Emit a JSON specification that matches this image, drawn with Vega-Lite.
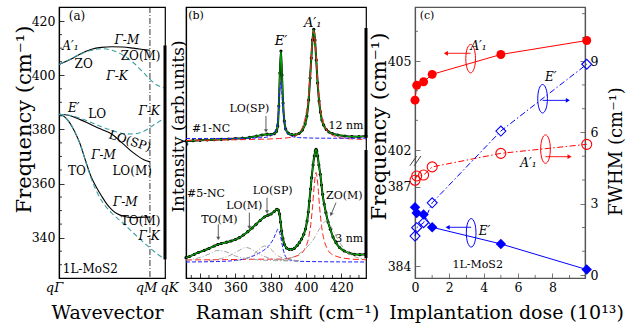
{
"$schema":"https://vega.github.io/schema/vega-lite/v6.json",
"background":"white",
"padding":{"left":12,"top":6,"right":0,"bottom":0},
"bounds":"flush",
"spacing":21,
"config":{
 "font":"DejaVu Serif",
 "view":{"stroke":"black","strokeWidth":1.2},
 "axis":{"grid":false,"labelFont":"DejaVu Serif","titleFont":"DejaVu Serif","titleFontWeight":"normal","labelFontSize":12.5,"titleFontSize":19,"domainColor":"black","tickColor":"black","labelColor":"black","titleColor":"black","labelFlush":false,"labelOverlap":false,"tickWidth":0.8,"domainWidth":1.2,"tickSize":-5}
},
"datasets":{
 "disp":[
  {"b":"ZO","k":"M","x":0,"y":404},{"b":"ZO","k":"M","x":0.1,"y":405.7},{"b":"ZO","k":"M","x":0.2,"y":407.8},{"b":"ZO","k":"M","x":0.3,"y":409.5},{"b":"ZO","k":"M","x":0.4,"y":410.3},{"b":"ZO","k":"M","x":0.5,"y":410.5},{"b":"ZO","k":"M","x":0.6,"y":410.4},{"b":"ZO","k":"M","x":0.7,"y":410},{"b":"ZO","k":"M","x":0.8,"y":409.5},{"b":"ZO","k":"M","x":0.858,"y":409.2},
  {"b":"LO","k":"M","x":0,"y":385.6},{"b":"LO","k":"M","x":0.1,"y":385.1},{"b":"LO","k":"M","x":0.2,"y":383.6},{"b":"LO","k":"M","x":0.3,"y":381.8},{"b":"LO","k":"M","x":0.4,"y":380},{"b":"LO","k":"M","x":0.5,"y":378.2},{"b":"LO","k":"M","x":0.6,"y":374.8},{"b":"LO","k":"M","x":0.7,"y":371.4},{"b":"LO","k":"M","x":0.8,"y":368.8},{"b":"LO","k":"M","x":0.858,"y":368},
  {"b":"TO","k":"M","x":0,"y":385.6},{"b":"TO","k":"M","x":0.05,"y":384.7},{"b":"TO","k":"M","x":0.1,"y":382.5},{"b":"TO","k":"M","x":0.15,"y":379},{"b":"TO","k":"M","x":0.2,"y":374.5},{"b":"TO","k":"M","x":0.25,"y":368.5},{"b":"TO","k":"M","x":0.3,"y":362.8},{"b":"TO","k":"M","x":0.35,"y":358.8},{"b":"TO","k":"M","x":0.4,"y":355.5},{"b":"TO","k":"M","x":0.45,"y":352.5},{"b":"TO","k":"M","x":0.5,"y":350.3},{"b":"TO","k":"M","x":0.55,"y":348.8},{"b":"TO","k":"M","x":0.6,"y":348},{"b":"TO","k":"M","x":0.7,"y":347.4},{"b":"TO","k":"M","x":0.8,"y":347.6},{"b":"TO","k":"M","x":0.858,"y":347.6},
  {"b":"ZO","k":"K","x":0,"y":404},{"b":"ZO","k":"K","x":0.1,"y":405.8},{"b":"ZO","k":"K","x":0.2,"y":407.7},{"b":"ZO","k":"K","x":0.3,"y":409.1},{"b":"ZO","k":"K","x":0.4,"y":409.8},{"b":"ZO","k":"K","x":0.5,"y":409.2},{"b":"ZO","k":"K","x":0.6,"y":407.5},{"b":"ZO","k":"K","x":0.7,"y":404.7},{"b":"ZO","k":"K","x":0.8,"y":400.8},{"b":"ZO","k":"K","x":0.9,"y":397},{"b":"ZO","k":"K","x":1,"y":395.2},
  {"b":"LO","k":"K","x":0,"y":385.6},{"b":"LO","k":"K","x":0.1,"y":385.2},{"b":"LO","k":"K","x":0.2,"y":384.1},{"b":"LO","k":"K","x":0.3,"y":382.6},{"b":"LO","k":"K","x":0.4,"y":381},{"b":"LO","k":"K","x":0.5,"y":379.6},{"b":"LO","k":"K","x":0.6,"y":378.5},{"b":"LO","k":"K","x":0.7,"y":378.3},{"b":"LO","k":"K","x":0.8,"y":379.3},{"b":"LO","k":"K","x":0.9,"y":381.8},{"b":"LO","k":"K","x":1,"y":384.3},
  {"b":"TO","k":"K","x":0,"y":385.6},{"b":"TO","k":"K","x":0.05,"y":384.7},{"b":"TO","k":"K","x":0.1,"y":382.5},{"b":"TO","k":"K","x":0.15,"y":379},{"b":"TO","k":"K","x":0.2,"y":374.5},{"b":"TO","k":"K","x":0.25,"y":368.3},{"b":"TO","k":"K","x":0.3,"y":362.3},{"b":"TO","k":"K","x":0.35,"y":357.5},{"b":"TO","k":"K","x":0.4,"y":353.8},{"b":"TO","k":"K","x":0.5,"y":349},{"b":"TO","k":"K","x":0.6,"y":345.5},{"b":"TO","k":"K","x":0.7,"y":341.8},{"b":"TO","k":"K","x":0.8,"y":338.2},{"b":"TO","k":"K","x":0.9,"y":334.8},{"b":"TO","k":"K","x":1,"y":332}
 ],
 "aMinor":[{"y":330},{"y":335},{"y":345},{"y":350},{"y":355},{"y":365},{"y":370},{"y":375},{"y":385},{"y":390},{"y":395},{"y":405},{"y":410},{"y":415},{"y":425}],
 "aTxt":[
  {"x":0.17,"y":421.8,"t":"(a)"},{"x":0.233,"y":404,"t":"ZO"},{"x":0.77,"y":407.1,"t":"ZO(M)"},{"x":0.36,"y":385.6,"t":"LO"},{"x":0.69,"y":364.6,"t":"LO(M)"},{"x":0.17,"y":364.6,"t":"TO"},{"x":0.77,"y":346.2,"t":"TO(M)"},{"x":0.295,"y":328.4,"t":"1L-MoS2"}
 ],
 "aMath":[
  {"x":0.107,"y":410.8,"t":"A′₁"},{"x":0.139,"y":388,"t":"E′"},{"x":0.64,"y":413.1,"t":"Γ-M"},{"x":0.547,"y":399.7,"t":"Γ-K"},{"x":0.85,"y":386.8,"t":"Γ-K"},{"x":0.42,"y":370.6,"t":"Γ-M"},{"x":0.625,"y":353,"t":"Γ-M"},{"x":0.85,"y":340.7,"t":"Γ-K"}
 ],
 "aRot":[{"x":0.67,"y":375.7,"t":"LO(SP)"}],
 "spec":[
  {"s":"1","x":332,"y":137},{"s":"1","x":336,"y":137.3},{"s":"1","x":340,"y":137.7},{"s":"1","x":344,"y":138},{"s":"1","x":348,"y":138.3},{"s":"1","x":352,"y":138.7},{"s":"1","x":356,"y":139},{"s":"1","x":360,"y":139.4},{"s":"1","x":364,"y":139.8},{"s":"1","x":368,"y":140.6},{"s":"1","x":372,"y":141.8},{"s":"1","x":375,"y":143},{"s":"1","x":378,"y":143.8},{"s":"1","x":380,"y":143.4},{"s":"1","x":382,"y":144.3},{"s":"1","x":383.2,"y":146.5},{"s":"1","x":384,"y":152},{"s":"1","x":384.6,"y":172},{"s":"1","x":385.2,"y":205},{"s":"1","x":385.8,"y":227},{"s":"1","x":386.4,"y":203},{"s":"1","x":387,"y":175},{"s":"1","x":387.7,"y":157},{"s":"1","x":388.5,"y":149},{"s":"1","x":390,"y":144.8},{"s":"1","x":392,"y":143.3},{"s":"1","x":394,"y":143.2},{"s":"1","x":396,"y":144.5},{"s":"1","x":398,"y":148},{"s":"1","x":399.5,"y":154},{"s":"1","x":400.5,"y":162},{"s":"1","x":401.5,"y":178},{"s":"1","x":402.3,"y":200},{"s":"1","x":403,"y":220},{"s":"1","x":403.7,"y":238},{"s":"1","x":404.4,"y":248.7},{"s":"1","x":405.1,"y":238},{"s":"1","x":405.8,"y":218},{"s":"1","x":406.6,"y":195},{"s":"1","x":407.4,"y":177},{"s":"1","x":408.2,"y":166},{"s":"1","x":409,"y":158},{"s":"1","x":410,"y":153},{"s":"1","x":411.5,"y":148.5},{"s":"1","x":413,"y":146},{"s":"1","x":415,"y":144.3},{"s":"1","x":418,"y":143},{"s":"1","x":422,"y":142},{"s":"1","x":426,"y":141.4},{"s":"1","x":430,"y":141.3},{"s":"1","x":434,"y":142},
  {"s":"5","x":332,"y":20.3},{"s":"5","x":334,"y":21.5},{"s":"5","x":336.7,"y":23.7},{"s":"5","x":339,"y":25.5},{"s":"5","x":342.4,"y":27.7},{"s":"5","x":345,"y":29.5},{"s":"5","x":348,"y":32},{"s":"5","x":350,"y":33.5},{"s":"5","x":352,"y":34.5},{"s":"5","x":355,"y":35.8},{"s":"5","x":357.5,"y":37},{"s":"5","x":360,"y":38.5},{"s":"5","x":362.2,"y":40.3},{"s":"5","x":364.5,"y":43},{"s":"5","x":367,"y":46.3},{"s":"5","x":369.5,"y":50},{"s":"5","x":371.7,"y":53.7},{"s":"5","x":374,"y":57.5},{"s":"5","x":376.4,"y":61},{"s":"5","x":378.5,"y":62.8},{"s":"5","x":380.2,"y":64},{"s":"5","x":382,"y":66.5},{"s":"5","x":383.4,"y":68.7},{"s":"5","x":384.3,"y":68},{"s":"5","x":385,"y":64},{"s":"5","x":385.6,"y":56},{"s":"5","x":386.2,"y":47},{"s":"5","x":386.9,"y":39.5},{"s":"5","x":387.8,"y":33.5},{"s":"5","x":389,"y":30},{"s":"5","x":390.5,"y":28.7},{"s":"5","x":392,"y":28.7},{"s":"5","x":393.4,"y":29.7},{"s":"5","x":395,"y":32.5},{"s":"5","x":396.2,"y":35.3},{"s":"5","x":397.5,"y":39},{"s":"5","x":398.7,"y":43.7},{"s":"5","x":399.7,"y":49},{"s":"5","x":400.6,"y":57},{"s":"5","x":401.3,"y":66},{"s":"5","x":401.9,"y":77},{"s":"5","x":402.6,"y":89},{"s":"5","x":403.2,"y":100.3},{"s":"5","x":404,"y":113},{"s":"5","x":404.7,"y":122},{"s":"5","x":405.3,"y":127},{"s":"5","x":405.7,"y":128.7},{"s":"5","x":406.1,"y":127},{"s":"5","x":406.6,"y":122},{"s":"5","x":407.3,"y":113},{"s":"5","x":408.1,"y":103.7},{"s":"5","x":408.8,"y":93},{"s":"5","x":409.4,"y":83.7},{"s":"5","x":410.3,"y":74},{"s":"5","x":411.3,"y":65.3},{"s":"5","x":412.5,"y":56},{"s":"5","x":413.8,"y":48.7},{"s":"5","x":415.3,"y":41},{"s":"5","x":417,"y":35.3},{"s":"5","x":419,"y":30.5},{"s":"5","x":421.7,"y":27},{"s":"5","x":424.5,"y":25},{"s":"5","x":427.4,"y":23.7},{"s":"5","x":430.5,"y":23.3},{"s":"5","x":433.6,"y":23.7}
 ],
 "comp":[
  {"c":"r1","x":332,"y":137.5},{"c":"r1","x":350,"y":138},{"c":"r1","x":370,"y":138.6},{"c":"r1","x":385,"y":139.5},{"c":"r1","x":390,"y":140.3},{"c":"r1","x":394.4,"y":142.3},{"c":"r1","x":398.4,"y":153},{"c":"r1","x":400.4,"y":168},{"c":"r1","x":401.4,"y":182},{"c":"r1","x":402.4,"y":204},{"c":"r1","x":403.4,"y":232},{"c":"r1","x":404.4,"y":247},{"c":"r1","x":405.4,"y":232},{"c":"r1","x":406.4,"y":204},{"c":"r1","x":407.4,"y":182},{"c":"r1","x":408.4,"y":168},{"c":"r1","x":410.4,"y":153},{"c":"r1","x":414.4,"y":143.5},{"c":"r1","x":420,"y":140},{"c":"r1","x":427,"y":139},{"c":"r1","x":434,"y":138.5},
  {"c":"b1","x":332,"y":139.5},{"c":"b1","x":360,"y":139.6},{"c":"b1","x":375.7,"y":140.4},{"c":"b1","x":380.7,"y":142.8},{"c":"b1","x":382.7,"y":147.9},{"c":"b1","x":383.7,"y":155.4},{"c":"b1","x":384.45,"y":167.8},{"c":"b1","x":385.1,"y":185.4},{"c":"b1","x":385.7,"y":196},{"c":"b1","x":386.3,"y":185.4},{"c":"b1","x":386.95,"y":167.8},{"c":"b1","x":387.7,"y":155.4},{"c":"b1","x":388.7,"y":147.9},{"c":"b1","x":390.7,"y":142.8},{"c":"b1","x":395.7,"y":140.4},{"c":"b1","x":410,"y":139.8},{"c":"b1","x":434,"y":139.7},
  {"c":"r5","x":332,"y":18},{"c":"r5","x":355,"y":18.4},{"c":"r5","x":375,"y":18.8},{"c":"r5","x":385.7,"y":18.9},{"c":"r5","x":395.7,"y":22.7},{"c":"r5","x":399.7,"y":30.5},{"c":"r5","x":401.7,"y":42.2},{"c":"r5","x":402.7,"y":53.5},{"c":"r5","x":403.7,"y":71.2},{"c":"r5","x":404.7,"y":93.4},{"c":"r5","x":405.7,"y":105.5},{"c":"r5","x":406.7,"y":93.4},{"c":"r5","x":407.7,"y":71.2},{"c":"r5","x":408.7,"y":53.5},{"c":"r5","x":409.7,"y":42.2},{"c":"r5","x":411.7,"y":30.5},{"c":"r5","x":415.7,"y":22.7},{"c":"r5","x":425.7,"y":18.9},{"c":"r5","x":434,"y":18.3},
  {"c":"b5","x":332,"y":16},{"c":"b5","x":350,"y":16.5},{"c":"b5","x":360,"y":17.5},{"c":"b5","x":365,"y":19},{"c":"b5","x":370,"y":22},{"c":"b5","x":374,"y":25.5},{"c":"b5","x":377,"y":29},{"c":"b5","x":379.5,"y":33.5},{"c":"b5","x":381.5,"y":39},{"c":"b5","x":383,"y":45},{"c":"b5","x":384,"y":48.7},{"c":"b5","x":385,"y":46},{"c":"b5","x":386,"y":38},{"c":"b5","x":387,"y":29},{"c":"b5","x":388,"y":23},{"c":"b5","x":389.5,"y":19.5},{"c":"b5","x":392,"y":17.5},{"c":"b5","x":400,"y":16.5},{"c":"b5","x":434,"y":16},
  {"c":"gTO","x":332,"y":18},{"c":"gTO","x":340,"y":20.5},{"c":"gTO","x":345,"y":24},{"c":"gTO","x":350,"y":27.5},{"c":"gTO","x":355,"y":26},{"c":"gTO","x":360,"y":22},{"c":"gTO","x":368,"y":19},{"c":"gTO","x":380,"y":17.5},{"c":"gTO","x":395,"y":17},
  {"c":"gLOM","x":345,"y":17.5},{"c":"gLOM","x":352,"y":19.5},{"c":"gLOM","x":358,"y":23.5},{"c":"gLOM","x":362,"y":27.5},{"c":"gLOM","x":366,"y":30.5},{"c":"gLOM","x":370,"y":28},{"c":"gLOM","x":374,"y":23.5},{"c":"gLOM","x":380,"y":19.5},{"c":"gLOM","x":390,"y":17.5},
  {"c":"gLOSP","x":360,"y":17.5},{"c":"gLOSP","x":366,"y":19.5},{"c":"gLOSP","x":370,"y":23},{"c":"gLOSP","x":373,"y":28},{"c":"gLOSP","x":376.5,"y":32},{"c":"gLOSP","x":380,"y":29},{"c":"gLOSP","x":383,"y":23.5},{"c":"gLOSP","x":388,"y":19.5},{"c":"gLOSP","x":396,"y":17.5},
  {"c":"gZO","x":385,"y":18},{"c":"gZO","x":392,"y":20.5},{"c":"gZO","x":396,"y":24},{"c":"gZO","x":400,"y":30},{"c":"gZO","x":404,"y":38},{"c":"gZO","x":408,"y":50},{"c":"gZO","x":411.3,"y":57},{"c":"gZO","x":414,"y":52},{"c":"gZO","x":417,"y":42},{"c":"gZO","x":420,"y":33},{"c":"gZO","x":424,"y":25},{"c":"gZO","x":428,"y":21},{"c":"gZO","x":434,"y":19}
 ],
 "bMinor":[{"x":335},{"x":345},{"x":350},{"x":355},{"x":365},{"x":370},{"x":375},{"x":385},{"x":390},{"x":395},{"x":405},{"x":410},{"x":415},{"x":425},{"x":430}],
 "bTxt":[
  {"x":337.7,"y":262,"t":"(b)"},{"x":367.9,"y":168.7,"t":"LO(SP)"},{"x":346.2,"y":148.7,"t":"#1-NC"},{"x":422.6,"y":152,"t":"12 nm"},{"x":343.3,"y":83.7,"t":"#5-NC"},{"x":350.9,"y":57.7,"t":"TO(M)"},{"x":365,"y":72,"t":"LO(M)"},{"x":381.1,"y":87,"t":"LO(SP)"},{"x":421.7,"y":82,"t":"ZO(M)"},{"x":424.5,"y":39.3,"t":"3 nm"}
 ],
 "bMath":[{"x":385.8,"y":237,"t":"E′"},{"x":403.8,"y":255,"t":"A′₁"}],
 "bArr":[{"x":377.3,"y":162,"y2":147},{"x":350.3,"y":53.7,"y2":39.5},{"x":367.9,"y":65.3,"y2":50.5},{"x":377.9,"y":80.3,"y2":66}],
 "bDiag":[{"x":417,"y":75.3,"x2":414.2,"y2":63.5}],
 "freq":[
  {"s":"A","x":0,"y":403.68},{"s":"A","x":0.1,"y":404.18},{"s":"A","x":0.5,"y":404.3},{"s":"A","x":1,"y":404.55},{"s":"A","x":5,"y":405.22},{"s":"A","x":10,"y":405.69},
  {"s":"E","x":0,"y":386.23},{"s":"E","x":0.1,"y":386.01},{"s":"E","x":0.5,"y":385.95},{"s":"E","x":1,"y":385.47},{"s":"E","x":5,"y":384.84},{"s":"E","x":10,"y":383.87}
 ],
 "fw":[
  {"s":"A","x":0,"y":3.99},{"s":"A","x":0.1,"y":4.17},{"s":"A","x":0.5,"y":4.21},{"s":"A","x":1,"y":4.55},{"s":"A","x":5,"y":5.12},{"s":"A","x":10,"y":5.5},
  {"s":"E","x":0,"y":1.64},{"s":"E","x":0.1,"y":1.99},{"s":"E","x":0.5,"y":2.2},{"s":"E","x":1,"y":3.04},{"s":"E","x":5,"y":6.06},{"s":"E","x":10,"y":8.87}
 ],
 "cXMinor":[{"x":1},{"x":3},{"x":5},{"x":7},{"x":9}],
 "cLMinor":[{"y":385},{"y":386},{"y":403},{"y":404},{"y":406}],
 "cRMinor":[{"y":1},{"y":2},{"y":4},{"y":5},{"y":7},{"y":8},{"y":10},{"y":11}],
 "cBreak":[{"x":-0.3,"x2":0.1,"y":387.8,"y2":401.8},{"x":-0.05,"x2":0.35,"y":387.8,"y2":401.8}],
 "cLEll":[{"s":"A","x":3.24,"y":405.08},{"s":"E","x":3.27,"y":385.26}],
 "cLArr":[{"s":"A","x":3.24,"x2":1.8,"y":405.26},{"s":"E","x":3.27,"x2":1.9,"y":385.47}],
 "cLMath":[{"x":3.7,"y":405.5,"t":"A′₁"},{"x":4.05,"y":385.32,"t":"E′"}],
 "cLTxt":[{"x":3.65,"y":384.04,"t":"1L-MoS2"},{"x":0.7,"y":406.5,"t":"(c)"}],
 "cREll":[{"s":"E","x":7.43,"y":7.42},{"s":"A","x":7.6,"y":5.3}],
 "cRArr":[{"s":"E","x":7.43,"x2":8.9,"y":7.35},{"s":"A","x":7.6,"x2":9.0,"y":4.98}],
 "cRMath":[{"x":7.9,"y":8.34,"t":"E′"},{"x":6.6,"y":4.73,"t":"A′₁"}]
},
"hconcat":[
 {
  "width":106,"height":271,
  "layer":[
   {"data":{"name":"disp"},"transform":[{"filter":"datum.k == 'M'"}],
    "mark":{"type":"line","color":"black","strokeWidth":1.1,"interpolate":"monotone"},
    "encoding":{
     "x":{"field":"x","type":"quantitative","scale":{"domain":[0,1],"nice":false,"zero":false},
      "axis":{"title":"Wavevector","values":[0,0.858,1],"ticks":false,"labelOverlap":false,
       "labelExpr":"datum.value == 0 ? 'qΓ' : (datum.value < 0.95 ? 'qM' : 'qK')",
       "labelFontStyle":"italic","labelFontSize":13,"labelPadding":3,
       "labelOffset":{"condition":[{"test":"datum.value == 0","value":-5},{"test":"datum.value > 0.95","value":4}],"value":-4},
       "titleX":48,"titleY":34,"titleBaseline":"middle"}},
     "y":{"field":"y","type":"quantitative","scale":{"domain":[325.1,425.2],"nice":false,"zero":false},
      "axis":{"title":"Frequency (cm⁻¹)","values":[340,360,380,400,420],"labelOverlap":false,"titleFontSize":21,
       "labelPadding":9,"titleX":-34.5,"titleY":112,"titleBaseline":"middle"}},
     "detail":{"field":"b"}}},
   {"data":{"name":"disp"},"transform":[{"filter":"datum.k == 'K'"}],
    "mark":{"type":"line","color":"#3a9ea5","strokeWidth":1.1,"strokeDash":[5,3],"interpolate":"monotone"},
    "encoding":{"x":{"field":"x","type":"quantitative"},"y":{"field":"y","type":"quantitative"},"detail":{"field":"b"}}},
   {"data":{"name":"aMinor"},"mark":{"type":"rule","color":"black","strokeWidth":0.8},
    "encoding":{"x":{"datum":0,"type":"quantitative"},"x2":{"datum":0.028},"y":{"field":"y","type":"quantitative"}}},
   {"data":{"values":[{"x":0.858}]},"mark":{"type":"rule","color":"black","strokeWidth":0.8,"strokeDash":[6,2,1,2]},
    "encoding":{"x":{"field":"x","type":"quantitative"}}},
   {"data":{"values":[{"x":1,"y":332,"y2":411}]},"mark":{"type":"rule","color":"black","strokeWidth":3},
    "encoding":{"x":{"field":"x","type":"quantitative"},"y":{"field":"y","type":"quantitative"},"y2":{"field":"y2"}}},
   {"data":{"name":"aTxt"},"mark":{"type":"text","fontSize":12,"color":"black"},
    "encoding":{"x":{"field":"x","type":"quantitative"},"y":{"field":"y","type":"quantitative"},"text":{"field":"t"}}},
   {"data":{"name":"aMath"},"mark":{"type":"text","fontSize":12,"fontStyle":"italic","color":"black"},
    "encoding":{"x":{"field":"x","type":"quantitative"},"y":{"field":"y","type":"quantitative"},"text":{"field":"t"}}},
   {"data":{"name":"aRot"},"mark":{"type":"text","fontSize":12,"angle":18,"color":"black"},
    "encoding":{"x":{"field":"x","type":"quantitative"},"y":{"field":"y","type":"quantitative"},"text":{"field":"t"}}}
  ]
 },
 {
  "width":180,"height":271,
  "layer":[
   {"data":{"name":"spec"},"mark":{"type":"line","color":"black","strokeWidth":2,"interpolate":"monotone"},
    "encoding":{
     "x":{"field":"x","type":"quantitative","scale":{"domain":[332,434],"nice":false,"zero":false},
      "axis":{"title":"Raman shift (cm⁻¹)","values":[340,360,380,400,420],"labelOverlap":false,
       "labelPadding":8,"titleX":101,"titleY":34,"titleBaseline":"middle"}},
     "y":{"field":"y","type":"quantitative","scale":{"domain":[0,271],"nice":false,"zero":false},
      "axis":{"title":"Intensity (arb.units)","labels":false,"ticks":false,"titleFontSize":17,"titleX":-7.5,"titleY":119,"titleBaseline":"middle"}},
     "detail":{"field":"s"}}},
   {"data":{"name":"bMinor"},"mark":{"type":"rule","color":"black","strokeWidth":0.8},
    "encoding":{"x":{"field":"x","type":"quantitative"},"y":{"datum":0,"type":"quantitative"},"y2":{"datum":3}}},
   {"data":{"name":"spec"},"mark":{"type":"point","filled":true,"color":"black","size":10,"opacity":1},
    "encoding":{"x":{"field":"x","type":"quantitative"},"y":{"field":"y","type":"quantitative"}}},
   {"data":{"name":"spec"},"mark":{"type":"line","color":"#00a000","strokeWidth":1.2,"interpolate":"monotone"},
    "encoding":{"x":{"field":"x","type":"quantitative"},"y":{"field":"y","type":"quantitative"},"detail":{"field":"s"}}},
   {"data":{"name":"comp"},"transform":[{"filter":"datum.c == 'r1' || datum.c == 'r5'"}],
    "mark":{"type":"line","color":"#ff2020","strokeWidth":1,"strokeDash":[6,3],"interpolate":"monotone"},
    "encoding":{"x":{"field":"x","type":"quantitative"},"y":{"field":"y","type":"quantitative"},"detail":{"field":"c"}}},
   {"data":{"name":"comp"},"transform":[{"filter":"datum.c == 'b1' || datum.c == 'b5'"}],
    "mark":{"type":"line","color":"#2020ff","strokeWidth":1,"strokeDash":[4,2],"interpolate":"monotone"},
    "encoding":{"x":{"field":"x","type":"quantitative"},"y":{"field":"y","type":"quantitative"},"detail":{"field":"c"}}},
   {"data":{"name":"comp"},"transform":[{"filter":"indexof(datum.c, 'g') == 0"}],
    "mark":{"type":"line","color":"#999999","strokeWidth":0.9,"strokeDash":[5,2,1,2],"interpolate":"monotone"},
    "encoding":{"x":{"field":"x","type":"quantitative"},"y":{"field":"y","type":"quantitative"},"detail":{"field":"c"}}},
   {"data":{"values":[{"x":434,"y":140,"y2":250},{"x":434,"y":20,"y2":128}]},"mark":{"type":"rule","color":"black","strokeWidth":3},
    "encoding":{"x":{"field":"x","type":"quantitative"},"y":{"field":"y","type":"quantitative"},"y2":{"field":"y2"}}},
   {"data":{"name":"bArr"},"mark":{"type":"rule","color":"#333","strokeWidth":0.8},
    "encoding":{"x":{"field":"x","type":"quantitative"},"y":{"field":"y","type":"quantitative"},"y2":{"field":"y2"}}},
   {"data":{"name":"bArr"},"mark":{"type":"point","shape":"triangle-down","filled":true,"color":"#333","size":18},
    "encoding":{"x":{"field":"x","type":"quantitative"},"y":{"field":"y2","type":"quantitative"}}},
   {"data":{"name":"bDiag"},"mark":{"type":"rule","color":"#333","strokeWidth":0.8},
    "encoding":{"x":{"field":"x","type":"quantitative"},"y":{"field":"y","type":"quantitative"},"x2":{"field":"x2"},"y2":{"field":"y2"}}},
   {"data":{"name":"bDiag"},"mark":{"type":"point","shape":"triangle-down","filled":true,"color":"#333","size":18,"angle":22},
    "encoding":{"x":{"field":"x2","type":"quantitative"},"y":{"field":"y2","type":"quantitative"}}},
   {"data":{"name":"bTxt"},"mark":{"type":"text","fontSize":11,"color":"black"},
    "encoding":{"x":{"field":"x","type":"quantitative"},"y":{"field":"y","type":"quantitative"},"text":{"field":"t"}}},
   {"data":{"name":"bMath"},"mark":{"type":"text","fontSize":13,"fontStyle":"italic","color":"black"},
    "encoding":{"x":{"field":"x","type":"quantitative"},"y":{"field":"y","type":"quantitative"},"text":{"field":"t"}}}
  ]
 },
 {
  "width":7,"height":271,"view":{"stroke":null},
  "data":{"values":[{"x":0}]},
  "mark":{"type":"point","opacity":0},
  "encoding":{"x":{"field":"x","type":"quantitative","axis":null}}
 },
 {
  "width":170,"height":271,
  "view":{"stroke":"#555"},
  "layer":[
   {"layer":[
     {"data":{"name":"freq"},"mark":{"type":"line","strokeWidth":1},
      "encoding":{
       "x":{"field":"x","type":"quantitative","scale":{"domain":[0,9.9],"nice":false,"zero":false},
        "axis":{"title":"Implantation dose (10¹³)","values":[0,2,4,6,8],"labelOverlap":false,
         "labelPadding":8,"domainColor":"#555","tickColor":"#555","titleX":91,"titleY":34,"titleBaseline":"middle"}},
       "y":{"field":"y","type":"quantitative","scale":{"domain":[383.55,387.98,401.63,406.82],"range":[271,154,154,0],"nice":false,"zero":false},
        "axis":{"title":"Frequency (cm⁻¹)","values":[384,387,402,405],"labelOverlap":false,"titleFontSize":21,
         "labelPadding":9,"domainColor":"#555","tickColor":"#555","titleX":-35.5,"titleY":119,"titleBaseline":"middle"}},
       "color":{"field":"s","type":"nominal","scale":{"domain":["A","E"],"range":["#ff0000","#0000ff"]},"legend":null}}},
     {"data":{"name":"cXMinor"},"mark":{"type":"rule","color":"#555","strokeWidth":0.8},
      "encoding":{"x":{"field":"x","type":"quantitative"},"y":{"datum":383.55,"type":"quantitative"},"y2":{"datum":383.665}}},
     {"data":{"name":"cLMinor"},"mark":{"type":"rule","color":"#555","strokeWidth":0.8},
      "encoding":{"x":{"datum":0,"type":"quantitative"},"x2":{"datum":0.175},"y":{"field":"y","type":"quantitative"}}},
     {"data":{"name":"cBreak"},"mark":{"type":"rule","color":"#444","strokeWidth":1},
      "encoding":{"x":{"field":"x","type":"quantitative"},"x2":{"field":"x2"},"y":{"field":"y","type":"quantitative"},"y2":{"field":"y2"}}},
     {"data":{"name":"freq"},"mark":{"type":"point","filled":true,"opacity":1},
      "encoding":{"x":{"field":"x","type":"quantitative"},"y":{"field":"y","type":"quantitative"},
       "color":{"field":"s","type":"nominal","legend":null},
       "shape":{"field":"s","type":"nominal","scale":{"domain":["A","E"],"range":["circle","diamond"]},"legend":null},
       "size":{"field":"s","type":"nominal","scale":{"domain":["A","E"],"range":[80,110]},"legend":null}}},
     {"data":{"name":"cLEll"},"mark":{"type":"point","shape":"M0,-1A0.34,1,0,1,1,0,1A0.34,1,0,1,1,0,-1Z","filled":false,"size":810,"strokeWidth":1,"opacity":1},
      "encoding":{"x":{"field":"x","type":"quantitative"},"y":{"field":"y","type":"quantitative"},"color":{"field":"s","type":"nominal","legend":null}}},
     {"data":{"name":"cLArr"},"mark":{"type":"rule","strokeWidth":0.9},
      "encoding":{"x":{"field":"x","type":"quantitative"},"x2":{"field":"x2"},"y":{"field":"y","type":"quantitative"},"color":{"field":"s","type":"nominal","legend":null}}},
     {"data":{"name":"cLArr"},"mark":{"type":"point","shape":"triangle-left","filled":true,"size":22,"opacity":1},
      "encoding":{"x":{"field":"x2","type":"quantitative"},"y":{"field":"y","type":"quantitative"},"color":{"field":"s","type":"nominal","legend":null}}},
     {"data":{"name":"cLMath"},"mark":{"type":"text","fontSize":12,"fontStyle":"italic","color":"black"},
      "encoding":{"x":{"field":"x","type":"quantitative"},"y":{"field":"y","type":"quantitative"},"text":{"field":"t"}}},
     {"data":{"name":"cLTxt"},"mark":{"type":"text","fontSize":11,"color":"black"},
      "encoding":{"x":{"field":"x","type":"quantitative"},"y":{"field":"y","type":"quantitative"},"text":{"field":"t"}}}
   ]},
   {"layer":[
     {"data":{"name":"fw"},"mark":{"type":"line","strokeWidth":1,"strokeDash":[6,2.5,1.5,2.5]},
      "encoding":{
       "x":{"field":"x","type":"quantitative"},
       "y":{"field":"y","type":"quantitative","scale":{"domain":[-0.126,11.28],"nice":false,"zero":false},
        "axis":{"orient":"right","title":"FWHM (cm⁻¹)","values":[0,3,6,9],"labelOverlap":false,"titleFontSize":18,
         "labelPadding":10,"domainColor":"#555","tickColor":"#555","titleAngle":270,"titleX":31,"titleY":144,"titleBaseline":"middle"}},
       "color":{"field":"s","type":"nominal","legend":null}}},
     {"data":{"name":"cRMinor"},"mark":{"type":"rule","color":"#555","strokeWidth":0.8},
      "encoding":{"x":{"datum":9.725,"type":"quantitative"},"x2":{"datum":9.9},"y":{"field":"y","type":"quantitative"}}},
     {"data":{"name":"fw"},"mark":{"type":"point","filled":false,"strokeWidth":1.1,"opacity":1},
      "encoding":{"x":{"field":"x","type":"quantitative"},"y":{"field":"y","type":"quantitative"},
       "color":{"field":"s","type":"nominal","legend":null},
       "shape":{"field":"s","type":"nominal","legend":null},
       "size":{"value":100}}},
     {"data":{"name":"cREll"},"mark":{"type":"point","shape":"M0,-1A0.34,1,0,1,1,0,1A0.34,1,0,1,1,0,-1Z","filled":false,"size":810,"strokeWidth":1,"opacity":1},
      "encoding":{"x":{"field":"x","type":"quantitative"},"y":{"field":"y","type":"quantitative"},"color":{"field":"s","type":"nominal","legend":null}}},
     {"data":{"name":"cRArr"},"mark":{"type":"rule","strokeWidth":0.9},
      "encoding":{"x":{"field":"x","type":"quantitative"},"x2":{"field":"x2"},"y":{"field":"y","type":"quantitative"},"color":{"field":"s","type":"nominal","legend":null}}},
     {"data":{"name":"cRArr"},"mark":{"type":"point","shape":"triangle-right","filled":true,"size":22,"opacity":1},
      "encoding":{"x":{"field":"x2","type":"quantitative"},"y":{"field":"y","type":"quantitative"},"color":{"field":"s","type":"nominal","legend":null}}},
     {"data":{"name":"cRMath"},"mark":{"type":"text","fontSize":12,"fontStyle":"italic","color":"black"},
      "encoding":{"x":{"field":"x","type":"quantitative"},"y":{"field":"y","type":"quantitative"},"text":{"field":"t"}}}
   ]}
  ],
  "resolve":{"scale":{"y":"independent"},"axis":{"y":"independent"}}
 }
]
}
